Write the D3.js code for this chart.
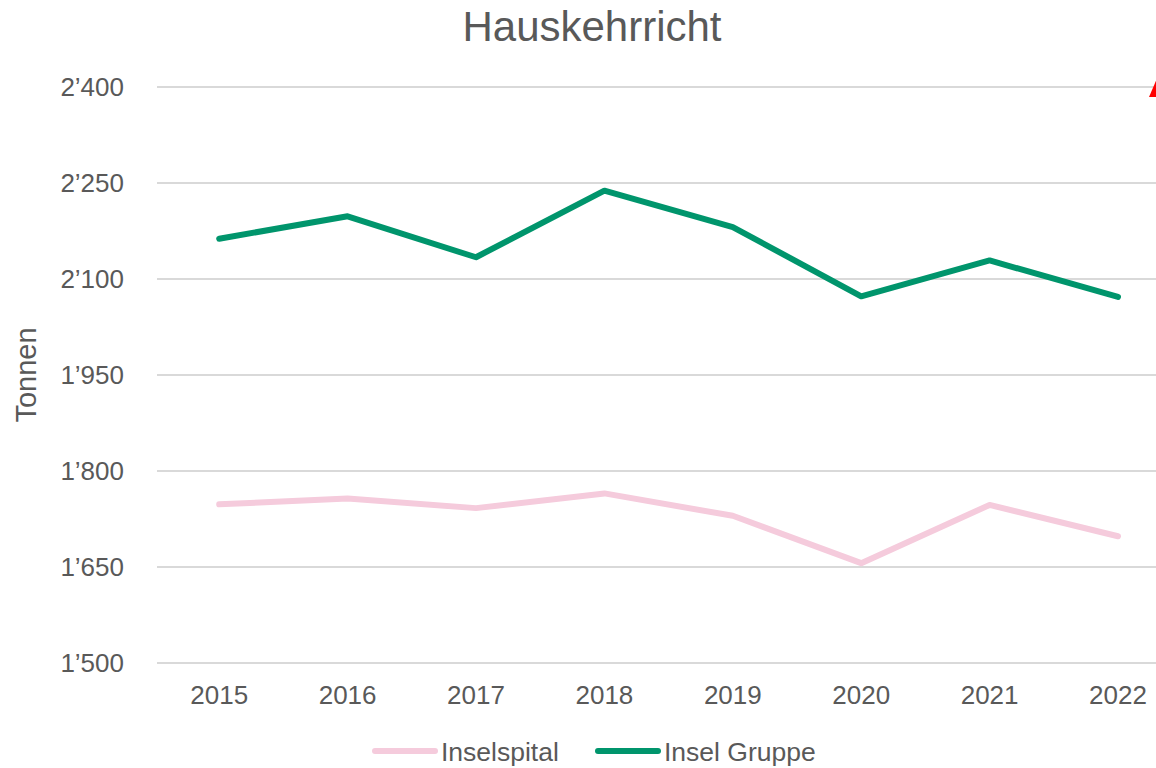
<!DOCTYPE html>
<html lang="de">
    <head>
        <meta charset="utf-8"/>
        <script src="https://d3js.org/d3.v7.min.js"></script>
        <style>
            body { margin: 0; background: #fff; overflow: hidden; }
            text { font-family: "Liberation Sans", Arial, sans-serif; fill: #595959; }
        </style>
    </head>
    <body>
        <div id="chart"></div>
    </body>
    <script>
        // Hauskehrricht, Tonnen pro Jahr
        var years = ["2015", "2016", "2017", "2018", "2019", "2020", "2021", "2022"];
        var inselspital = [1748, 1757, 1742, 1765, 1730, 1656, 1747, 1698];
        var inselGruppe = [2163, 2198, 2134, 2238, 2181, 2073, 2129, 2072];
        var yTicks = [1500, 1650, 1800, 1950, 2100, 2250, 2400];
        var seriesNames = ["Inselspital", "Insel Gruppe"];
        var seriesColors = ["#f5cbdc", "#00956c"];

        var W = 1156, H = 768;
        var margin = {top: 87, left: 155, bottom: 105};
        var plotH = H - margin.top - margin.bottom;

        var svg = d3.select("#chart")
            .append("svg")
                .attr("width", W)
                .attr("height", H);

        var x = d3.scaleBand()
            .domain(years)
            .range([margin.left, margin.left + 8 * 128.4]);

        var y = d3.scaleLinear()
            .domain([1500, 2400])
            .range([margin.top + plotH, margin.top]);

        // gridlines
        svg.append("g")
            .selectAll("line")
            .data(yTicks)
            .join("line")
                .attr("x1", 157)
                .attr("x2", W + 20)
                .attr("y1", function (d) { return y(d); })
                .attr("y2", function (d) { return y(d); })
                .attr("stroke", "#d9d9d9")
                .attr("stroke-width", 2);

        // y axis labels
        var fmt = function (d) { return d3.format(",")(d).replace(",", "\u2019"); };
        svg.append("g")
            .selectAll("text")
            .data(yTicks)
            .join("text")
                .attr("x", 124)
                .attr("y", function (d) { return y(d); })
                .attr("dy", "0.36em")
                .attr("text-anchor", "end")
                .attr("font-size", 26)
                .text(fmt);

        // x axis labels
        svg.append("g")
            .selectAll("text")
            .data(years)
            .join("text")
                .attr("x", function (d) { return x(d) + x.bandwidth() / 2; })
                .attr("y", 704)
                .attr("text-anchor", "middle")
                .attr("font-size", 26)
                .text(function (d) { return d; });

        // title + axis title
        svg.append("text")
            .attr("x", 592)
            .attr("y", 41)
            .attr("text-anchor", "middle")
            .attr("font-size", 42)
            .text("Hauskehrricht");

        svg.append("text")
            .attr("transform", "translate(36," + y(1950) + ") rotate(-90)")
            .attr("text-anchor", "middle")
            .attr("font-size", 29)
            .text("Tonnen");

        // lines
        var line = d3.line()
            .x(function (d, i) { return x(years[i]) + x.bandwidth() / 2; })
            .y(function (d) { return y(d); });

        [inselspital, inselGruppe].forEach(function (s, i) {
            svg.append("path")
                .datum(s)
                .attr("d", line)
                .attr("fill", "none")
                .attr("stroke", seriesColors[i])
                .attr("stroke-width", 6)
                .attr("stroke-linejoin", "round")
                .attr("stroke-linecap", "round");
        });

        // cut-off red marker at the right edge
        var mx = x("2022") + x.bandwidth() / 2 + 40, my = y(2400);
        svg.append("path")
            .attr("d", "M" + mx + "," + (my - 11) + " L" + (mx + 9) + "," + (my + 10) + " L" + (mx - 9) + "," + (my + 10) + " Z")
            .attr("fill", "#ff0000");

        // legend
        var legendX = [373, 596];
        var legend = svg.append("g")
            .selectAll("g")
            .data(seriesNames)
            .join("g")
                .attr("transform", function (d, i) { return "translate(" + legendX[i] + ",751)"; });

        legend.append("line")
            .attr("x1", 2).attr("x2", 62)
            .attr("stroke", function (d, i) { return seriesColors[i]; })
            .attr("stroke-width", 6)
            .attr("stroke-linecap", "round");

        legend.append("text")
            .attr("x", 68)
            .attr("dy", "0.36em")
            .attr("font-size", 26.5)
            .text(function (d) { return d; });
    </script>
</html>
